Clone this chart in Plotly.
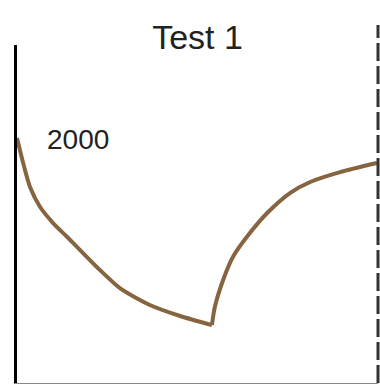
import plotly.graph_objects as go

# Segment 1: decline from start value to the minimum
x_down = [0, 1.7, 3.6, 6.4, 10.0, 13.9, 18.3, 23.0, 28.5, 36.8, 45.2, 54.0]
y_down = [2000, 1796, 1600, 1437, 1306, 1192, 1061, 922, 775, 637, 547, 473]

# Segment 2: recovery from the minimum
x_up = [54.0, 54.8, 57.1, 59.8, 64.5, 69.3, 75.6, 81.2, 89.5, 99.7]
y_up = [473, 620, 841, 1029, 1224, 1388, 1551, 1641, 1722, 1796]

title_text = "Test 1"
start_label = "2000"

line_color = "#866440"

fig = go.Figure()
fig.add_trace(go.Scatter(x=x_down, y=y_down, mode="lines",
                         line=dict(color=line_color, width=4, shape="spline", smoothing=0.7),
                         showlegend=False, hoverinfo="skip"))
fig.add_trace(go.Scatter(x=x_up, y=y_up, mode="lines",
                         line=dict(color=line_color, width=4, shape="spline", smoothing=0.7),
                         showlegend=False, hoverinfo="skip"))

fig.add_annotation(x=x_down[0], y=y_down[0], text=start_label, showarrow=False,
                   xanchor="left", yanchor="middle", xshift=28, yshift=-1,
                   font=dict(family="Liberation Sans, Arial", size=28, color="#222"))

# right dashed boundary
fig.add_shape(type="line", xref="paper", yref="paper", x0=1, x1=1, y0=0, y1=1.059,
              line=dict(color="#333", width=3, dash="18px,5px"))

fig.update_layout(
    width=380, height=385,
    margin=dict(l=17, r=2, t=45, b=2),
    paper_bgcolor="white", plot_bgcolor="white",
    title=dict(text=title_text, x=0.5, xref="paper", xanchor="center",
               y=1 - 49/385, yanchor="bottom", yref="container",
               font=dict(family="Liberation Sans, Arial", size=34, color="#222")),
    xaxis=dict(range=[0, 100], showgrid=False, zeroline=False, showticklabels=False,
               ticks="", showline=True, linecolor="#888", linewidth=1),
    yaxis=dict(range=[0, 2760], showgrid=False, zeroline=False, showticklabels=False,
               ticks="", showline=True, linecolor="black", linewidth=3),
)

# remove the default page margin / scrollbars so the figure sits at the window origin
post = ("document.body.style.margin='0';"
        "document.documentElement.style.overflow='hidden';"
        "document.body.style.overflow='hidden';")

fig.write_html("out.html", post_script=post, config={"displayModeBar": False})
